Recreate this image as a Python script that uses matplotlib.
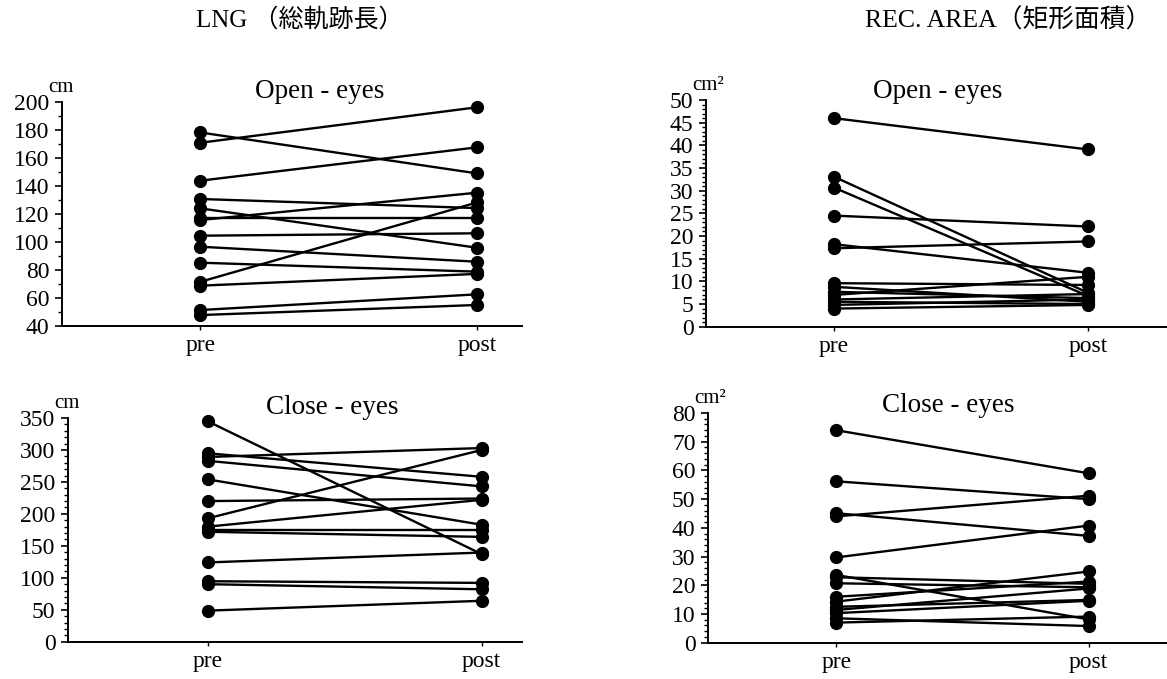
import matplotlib
matplotlib.use('Agg')
import matplotlib.pyplot as plt
from matplotlib.ticker import MultipleLocator

W, H = 1167, 679
conditions = ['pre', 'post']

# LNG (total path length), open eyes, cm
lng_open_pre = [170.7, 178, 143.6, 130.5, 123.8, 117, 115.5, 104.3, 96.4, 85, 71.4, 68.6, 51.2, 47.6]
lng_open_post = [196, 148.8, 167.4, 124, 95.7, 117, 135, 106, 85.7, 78.6, 128, 77, 62.4, 54.8]

# REC. AREA, open eyes, cm^2
rec_open_pre = [46, 33.1, 30.7, 24.5, 17.3, 18.2, 9.6, 8.8, 7.7, 7.0, 6.0, 5.5, 4.8, 4.0]
rec_open_post = [39.1, 7.5, 6.8, 22.1, 18.8, 11.9, 9.2, 5.5, 6.3, 11.0, 7.2, 5.0, 6.0, 4.8]

# LNG, closed eyes, cm
lng_close_pre = [345, 294.8, 289, 283, 254, 220, 193, 180, 175, 172, 124, 94.6, 90, 48.6]
lng_close_post = [137, 258, 303, 243, 183, 224, 300, 222, 175, 164, 139.5, 92, 82, 64]

# REC. AREA, closed eyes, cm^2
rec_close_pre = [74, 56.2, 44.0, 45.1, 29.7, 23.6, 22.8, 20.7, 16.0, 14.3, 12.5, 11.4, 10.3, 8.5, 7.0]
rec_close_post = [59, 50.0, 51.2, 37.2, 40.8, 8.1, 20.5, 19.3, 21.3, 24.8, 14.9, 18.9, 14.6, 5.8, 9.1]

SERIF = ['Liberation Serif', 'Noto Sans CJK JP', 'DejaVu Sans']
plt.rcParams['font.family'] = SERIF

fig = plt.figure(figsize=(W / 100, H / 100), dpi=100)


def rect(l, r, t, b):
    return [l / W, 1 - b / H, (r - l) / W, (b - t) / H]


def panel(l, r, t, b, pre, post, ylim, major, minor, unit, xlim, subtitle, sub_xy):
    ax = fig.add_axes(rect(l, r, t, b))
    for a, c in zip(pre, post):
        ax.plot([0, 1], [a, c], color='black', lw=1.7, marker='o', ms=8.5,
                solid_capstyle='round', zorder=3, clip_on=False)
    ax.set_xlim(*xlim)
    ax.set_ylim(*ylim)
    ax.spines['top'].set_visible(False)
    ax.spines['right'].set_visible(False)
    ax.spines['left'].set_linewidth(1.4)
    ax.spines['bottom'].set_linewidth(1.4)
    ax.set_xticks([0, 1])
    ax.set_xticklabels(conditions)
    ax.yaxis.set_major_locator(MultipleLocator(major))
    ax.yaxis.set_minor_locator(MultipleLocator(minor))
    ax.tick_params(axis='y', which='major', direction='out', length=5, width=1.2,
                   labelsize=17, pad=4)
    ax.tick_params(axis='y', which='minor', direction='out', length=3, width=1.0)
    ax.tick_params(axis='x', direction='out', length=3, width=1.0, labelsize=17, pad=4)
    fig.text((l - 14) / W, 1 - (t - 5) / H, unit, fontsize=15, ha='left', va='bottom')
    fig.text(sub_xy[0] / W, 1 - sub_xy[1] / H, subtitle, fontsize=19.5,
             ha='center', va='center')
    return ax


panel(62, 522, 101.7, 325.7, lng_open_pre, lng_open_post, (40, 200), 20, 10,
      'cm', (-0.501, 1.163), 'Open - eyes', (320, 92))
panel(706, 1167, 100, 326.7, rec_open_pre, rec_open_post, (0, 50), 5, 1,
      'cm²', (-0.503, 1.312), 'Open - eyes', (938, 92))
panel(68, 522, 418, 641.7, lng_close_pre, lng_close_post, (0, 350), 50, 10,
      'cm', (-0.509, 1.147), 'Close - eyes', (332, 407))
panel(708, 1167, 413, 642.7, rec_close_pre, rec_close_post, (0, 80), 10, 2,
      'cm²', (-0.508, 1.31), 'Close - eyes', (948, 406))

fig.text(300 / W, 1 - 20 / H, 'LNG （総軌跡長）', fontsize=18, ha='center', va='center',
         family=SERIF)
fig.text(1008 / W, 1 - 20 / H, 'REC. AREA（矩形面積）', fontsize=18.5, ha='center',
         va='center', family=SERIF)

fig.savefig('out.png', dpi=100)
